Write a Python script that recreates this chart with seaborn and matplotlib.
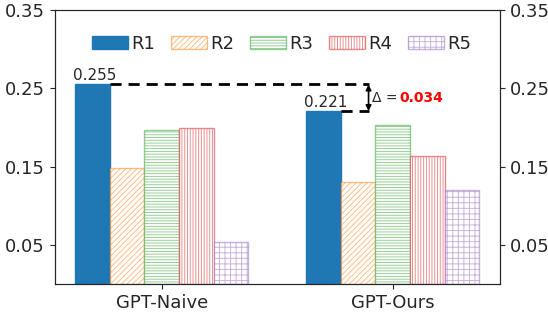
import pandas as pd
import matplotlib
matplotlib.use("Agg")
import matplotlib.pyplot as plt
import seaborn as sns

# Data
methods = ["GPT-Naive", "GPT-Ours"]
runs = ["R1", "R2", "R3", "R4", "R5"]
r1 = [0.255, 0.221]
r2 = [0.148, 0.131]
r3 = [0.197, 0.203]
r4 = [0.199, 0.163]
r5 = [0.054, 0.120]
yticks = [0.05, 0.15, 0.25, 0.35]

colors = ["#1f77b4", "#ff7f0e", "#2ca02c", "#d62728", "#9467bd"]
hatches = [None, "//////", "------", "||||||", "+++"]

rows = []
for run, vals in zip(runs, [r1, r2, r3, r4, r5]):
    for m, v in zip(methods, vals):
        rows.append({"method": m, "run": run, "score": v})
df = pd.DataFrame(rows)

sns.set_style("ticks")
plt.rcParams["font.family"] = ["DejaVu Sans"]
plt.rcParams["hatch.linewidth"] = 0.7

fig, ax = plt.subplots(figsize=(5.48, 3.16), dpi=100)
fig.subplots_adjust(left=0.1, right=0.912, top=0.968, bottom=0.101)

sns.barplot(data=df, x="method", y="score", hue="run", palette=colors,
            width=0.75, gap=0, ax=ax, legend=False, saturation=1)

for cont, col, h in zip(ax.containers, colors, hatches):
    for bar in cont:
        if h is None:
            bar.set_facecolor(col)
            bar.set_edgecolor(col)
        else:
            bar.set_facecolor("white")
            bar.set_edgecolor(matplotlib.colors.to_rgba(col, 0.5))
            bar.set_hatch(h)
            bar.set_linewidth(1.0)

ax.set_xlim(-0.463, 1.463)
ax.set_ylim(0, 0.35)
ax.set_yticks(yticks)
ax.set_yticklabels([f"{t:.2f}" for t in yticks])
ax.set_xlabel("")
ax.set_ylabel("")
ax.tick_params(labelsize=13)

ax2 = ax.twinx()
ax2.set_ylim(0, 0.35)
ax2.set_yticks(yticks)
ax2.set_yticklabels([f"{t:.2f}" for t in yticks])
ax2.tick_params(labelsize=13)

# value labels on R1 bars
b1 = ax.containers[0]
for bar, v in zip(b1, r1):
    ax.text(bar.get_x() - 0.01, v + 0.002, f"{v:.3f}", fontsize=11,
            ha="left", va="bottom")

# delta annotation
xa = 0.895
left_bar, right_bar = b1[0], b1[1]
ax.plot([left_bar.get_x() + left_bar.get_width(), xa], [r1[0], r1[0]],
        ls="--", color="black", lw=2, dashes=(4, 2.5))
ax.plot([right_bar.get_x() + right_bar.get_width(), xa], [r1[1], r1[1]],
        ls="--", color="black", lw=2, dashes=(4, 2.5))
ax.annotate("", xy=(xa, r1[0]), xytext=(xa, r1[1]),
            arrowprops=dict(arrowstyle="<|-|>", color="black", lw=1.2,
                            mutation_scale=8, shrinkA=0, shrinkB=0))
ymid = (r1[0] + r1[1]) / 2
ax.text(xa + 0.015, ymid, "Δ =", fontsize=10, ha="left", va="center")
ax.text(xa + 0.135, ymid, f"{r1[0] - r1[1]:.3f}", fontsize=10,
        ha="left", va="center", color="red", fontweight="bold")

handles = [c[0] for c in ax.containers]
ax.legend(handles, runs, loc="center", bbox_to_anchor=(0.51, 0.876), ncol=5,
          frameon=False, fontsize=13, handlelength=2.0, handletextpad=0.2,
          columnspacing=0.85)

plt.savefig("out.png", dpi=100)
